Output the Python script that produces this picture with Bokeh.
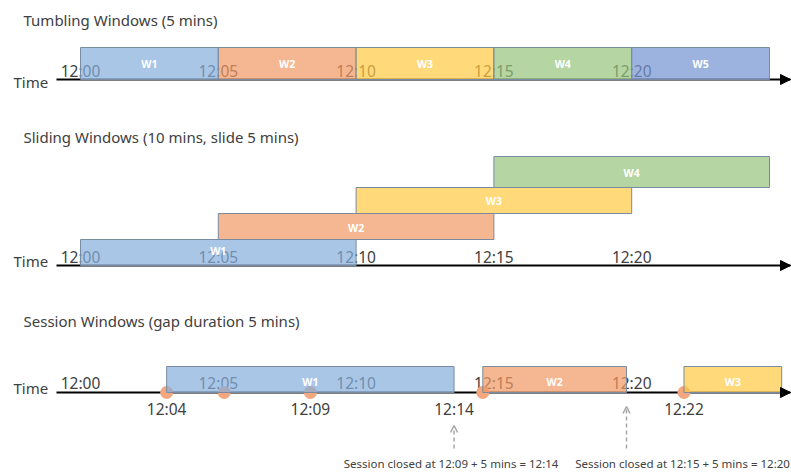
from bokeh.plotting import figure
from bokeh.models import Range1d, Arrow, NormalHead, OpenHead, Label, ColumnDataSource
from bokeh.core.properties import value
from bokeh.embed import file_html
from bokeh.resources import INLINE

FONT = "Noto Sans"
INK = "#404040"

# ---------------- data (minutes after 12:00) ----------------
tumbling_names = ["W1", "W2", "W3", "W4", "W5"]
tumbling_start = [0, 5, 10, 15, 20]
tumbling_end = [5, 10, 15, 20, 25]
tumbling_ticks = [0, 5, 10, 15, 20]

sliding_names = ["W1", "W2", "W3", "W4"]
sliding_start = [0, 5, 10, 15]
sliding_end = [10, 15, 20, 25]
sliding_ticks = [0, 5, 10, 15, 20]

session_names = ["W1", "W2", "W3"]
session_start = [4, 15, 22]
session_end = [14, 20, 25.4]
session_ticks = [0, 5, 10, 15, 20]
session_events = [4, 6, 9, 15, 22]
session_marks = [4, 9, 14, 22]
session_closed = [14, 20]
session_closed_text = ["Session closed at 12:09 + 5 mins = 12:14",
                       "Session closed at 12:15 + 5 mins = 12:20"]

titles = ["Tumbling Windows (5 mins)",
          "Sliding Windows (10 mins, slide 5 mins)",
          "Session Windows (gap duration 5 mins)"]

# ---------------- styles / layout ----------------
win_colors = ["#84AEDB", "#F19863", "#FFC941", "#95C37C", "#7493D1"]
sess_colors = ["#84AEDB", "#F19863", "#FFC941"]
edge = "#7A8AA0"


def hhmm(m):
    return "12:%02d" % int(round(m))


W, H = 791, 472
p = figure(width=W, height=H,
           x_range=Range1d((0 - 80) / 27.56, (W - 80) / 27.56), y_range=Range1d(H, 0),
           output_backend="svg", toolbar_location=None, min_border=0,
           x_axis_location=None, y_axis_location=None)
p.extra_x_ranges = {"session": Range1d((0 - 51.2) / 28.74, (W - 51.2) / 28.74)}
p.grid.visible = False
p.outline_line_color = None
p.background_fill_color = "white"
p.border_fill_color = "white"

AX_START = (56 - 80) / 27.56
AX_END = (790 - 80) / 27.56
S_AX_START = (56 - 51.2) / 28.74
S_AX_END = (790 - 51.2) / 28.74

axis_y = [79, 265, 392]

# axis lines
p.segment(x0=[AX_START, AX_START], y0=axis_y[:2], x1=[AX_END, AX_END], y1=axis_y[:2],
          line_color="black", line_width=1.8)
p.segment(x0=[S_AX_START], y0=[axis_y[2]], x1=[S_AX_END], y1=[axis_y[2]],
          line_color="black", line_width=1.8, x_range_name="session")
for i, y in enumerate(axis_y):
    if i < 2:
        p.add_layout(Arrow(end=NormalHead(size=10, fill_color="black", line_color="black"),
                           x_start=AX_END - 0.3, y_start=y, x_end=AX_END, y_end=y,
                           line_color="black", line_width=1.8))
    else:
        p.add_layout(Arrow(end=NormalHead(size=10, fill_color="black", line_color="black"),
                           x_start=S_AX_END - 0.3, y_start=y, x_end=S_AX_END, y_end=y,
                           line_color="black", line_width=1.8, x_range_name="session"))

# titles and "Time"
for t, yc in zip(titles, [19, 136, 320]):
    p.add_layout(Label(x=23, y=yc, x_units="screen", text=t, text_font=FONT,
                       text_font_size="15px", text_color=INK, text_baseline="middle"))
for yc in [81, 260, 387]:
    p.add_layout(Label(x=13, y=yc, x_units="screen", text="Time", text_font=FONT,
                       text_font_size="15px", text_color=INK, text_baseline="middle"))

# tick labels (drawn before windows so the windows tint them)
for ticks, yc in [(tumbling_ticks, 70.5), (sliding_ticks, 256.5), (session_ticks, 382.5)]:
    p.text(x=ticks, y=[yc] * len(ticks), text=[hhmm(m) for m in ticks],
           text_font=value(FONT), text_font_size="15.5px", text_color=INK,
           text_align="center", text_baseline="middle")

# session events (dots)
p.scatter(x=session_events, y=[axis_y[2]] * len(session_events), size=13,
          fill_color="#F2A77E", line_color=None, x_range_name="session")

# tumbling windows
tsrc = ColumnDataSource(dict(left=tumbling_start, right=tumbling_end,
                             top=[47] * 5, bottom=[79] * 5,
                             color=win_colors, name=tumbling_names,
                             cx=[(a + b) / 2 for a, b in zip(tumbling_start, tumbling_end)],
                             cy=[63] * 5))
p.quad(left="left", right="right", top="top", bottom="bottom", source=tsrc,
       fill_color="color", fill_alpha=0.7, line_color=edge, line_width=1)
p.text(x="cx", y="cy", text="name", source=tsrc, text_font=value(FONT),
       text_font_size="10.5px", text_font_style="bold", text_color="white",
       text_align="center", text_baseline="middle")

# sliding windows
s_top = [239, 213, 187, 156]
s_bot = [265, 239, 213, 187]
s_lab = [250, 227, 200, 172]
ssrc = ColumnDataSource(dict(left=sliding_start, right=sliding_end, top=s_top, bottom=s_bot,
                             color=win_colors[:4], name=sliding_names,
                             cx=[(a + b) / 2 for a, b in zip(sliding_start, sliding_end)],
                             cy=s_lab))
p.quad(left="left", right="right", top="top", bottom="bottom", source=ssrc,
       fill_color="color", fill_alpha=0.7, line_color=edge, line_width=1)
p.text(x="cx", y="cy", text="name", source=ssrc, text_font=value(FONT),
       text_font_size="10.5px", text_font_style="bold", text_color="white",
       text_align="center", text_baseline="middle")

# session windows
sesrc = ColumnDataSource(dict(left=session_start, right=session_end,
                              top=[366] * 3, bottom=[392] * 3,
                              color=sess_colors, name=session_names,
                              cx=[(a + b) / 2 for a, b in zip(session_start, session_end)],
                              cy=[381] * 3))
p.quad(left="left", right="right", top="top", bottom="bottom", source=sesrc,
       fill_color="color", fill_alpha=0.7, line_color=edge, line_width=1,
       x_range_name="session")
p.text(x="cx", y="cy", text="name", source=sesrc, text_font=value(FONT),
       text_font_size="10.5px", text_font_style="bold", text_color="white",
       text_align="center", text_baseline="middle", x_range_name="session")

# session time labels below axis
p.text(x=session_marks, y=[408] * len(session_marks), text=[hhmm(m) for m in session_marks],
       text_font=value(FONT), text_font_size="15.5px", text_color=INK,
       text_align="center", text_baseline="middle", x_range_name="session")

# dashed arrows for session closing
for m, ytop in zip(session_closed, [425, 406]):
    p.add_layout(Arrow(end=OpenHead(size=7, line_color="#A6A6A6", line_width=1.5),
                       x_start=m, y_start=448, x_end=m, y_end=ytop,
                       line_color="#A6A6A6", line_width=1.5, line_dash="4 3",
                       x_range_name="session"))

for m, t, off in zip(session_closed, session_closed_text, [-3, 56]):
    p.add_layout(Label(x=m, y=463, text=t, x_offset=off, text_font=FONT,
                       text_font_size="11.5px", text_color=INK, text_align="center",
                       text_baseline="middle", x_range_name="session"))

open("out.html", "w").write(file_html(p, INLINE))
